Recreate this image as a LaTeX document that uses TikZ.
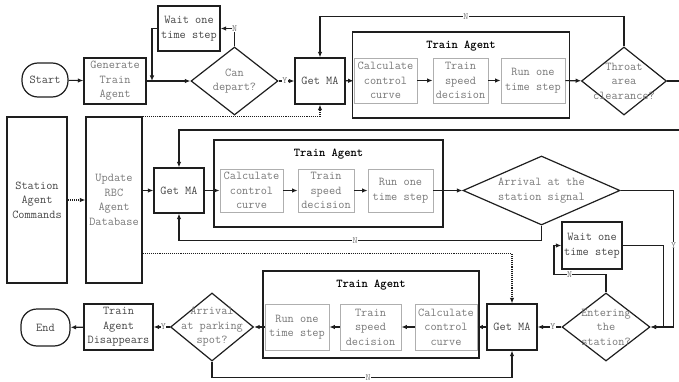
\documentclass[tikz,border=0pt]{standalone}
\usepackage{fontspec}
\usepackage{tikz}
\usetikzlibrary{arrows.meta,shapes.geometric}
\definecolor{boxline}{RGB}{30,30,30}
\definecolor{innerline}{RGB}{175,175,175}
\definecolor{textdark}{RGB}{70,70,70}
\definecolor{textlight}{RGB}{120,120,120}

\begin{document}
\begin{tikzpicture}[x=1pt,y=-1pt,>={Latex[length=5.5pt,width=4.5pt]},
  every node/.style={font=\ttfamily\fontsize{12}{14.5}\selectfont,text=textdark,align=center}]
\tikzset{block/.style={draw=boxline,line width=1.2pt,inner sep=0pt},
  inner/.style={draw=innerline,line width=0.8pt,inner sep=0pt,text=textlight},
  term/.style={draw=boxline,line width=1.2pt,rounded corners=16pt,inner sep=0pt},
  dia/.style={draw=boxline,line width=1.2pt,diamond,inner sep=0pt},
  agentbox/.style={draw=boxline,line width=1.2pt,inner sep=0pt,
    label={[font=\ttfamily\bfseries\fontsize{12}{12}\selectfont,text=black,anchor=north,inner sep=1pt,yshift=-8pt]north:Train Agent}},
  light/.style={text=textlight},
  yn/.style={font=\ttfamily\fontsize{9.5}{9.5}\selectfont,text=textlight,inner sep=0.3pt,fill=white},
  conn/.style={->,draw=boxline,line width=1.1pt},
  dotconn/.style={->,draw=boxline,line width=1.1pt,densely dotted}}

\useasboundingbox (0,0) rectangle (679,382);

% first train: generate and leave the depot
\node[term,minimum width=46,minimum height=34] (start) at (45,80) {Start};
\node[block,light,minimum width=62,minimum height=46] (gen) at (115,81) {Generate\\Train\\Agent};
\node[block,minimum width=62,minimum height=45] (wait1) at (189,28.5) {Wait one\\time step};
\node[dia,minimum width=87,minimum height=68,label={[light]center:Can\\depart?}] (dep) at (234.5,81) {};
\node[block,minimum width=50,minimum height=46] (ma1) at (320,81) {Get MA};
\node[agentbox,minimum width=217,minimum height=86] (ta1) at (461,75) {};
\node[inner,minimum width=63,minimum height=45] (calc1) at (385.5,80.5) {Calculate\\control\\curve};
\node[inner,minimum width=55,minimum height=45] (spd1) at (460.5,80.5) {Train\\speed\\decision};
\node[inner,minimum width=64,minimum height=45] (run1) at (533,80.5) {Run one\\time step};
\node[dia,minimum width=85,minimum height=68,label={[light]center:Throat\\area\\clearance?}] (thr) at (624,81) {};
\coordinate (edge1) at (684,81);
\coordinate (edge2) at (684,130);

% station and RBC
\node[block,minimum width=60,minimum height=166] (sac) at (37,200) {Station\\Agent\\Commands};
\node[block,light,minimum width=56,minimum height=166] (rbc) at (114,200) {Update\\RBC\\Agent\\Database};

% second train: approach the station
\node[block,minimum width=50,minimum height=45] (ma2) at (179,190.5) {Get MA};
\node[agentbox,minimum width=229,minimum height=87] (ta2) at (328.5,183.5) {};
\node[inner,minimum width=63,minimum height=43] (calc2) at (251.5,190.5) {Calculate\\control\\curve};
\node[inner,minimum width=56,minimum height=43] (spd2) at (326,190.5) {Train\\speed\\decision};
\node[inner,minimum width=65,minimum height=43] (run2) at (400.5,190.5) {Run one\\time step};
\node[dia,minimum width=157,minimum height=69,label={[light]center:Arrival at the\\station signal}] (arr) at (541.5,190.5) {};
\node[block,minimum width=60,minimum height=47] (wait2) at (592,245.5) {Wait one\\time step};
\node[dia,minimum width=88,minimum height=68,label={[light]center:Entering\\the\\station?}] (ent) at (606,327) {};

% third train: stop at the parking spot
\node[block,minimum width=50,minimum height=46] (ma3) at (512,327) {Get MA};
\node[agentbox,minimum width=216,minimum height=87] (ta3) at (371,314.5) {};
\node[inner,minimum width=62,minimum height=46] (calc3) at (446,327) {Calculate\\control\\curve};
\node[inner,minimum width=61,minimum height=46] (spd3) at (370.5,327) {Train\\speed\\decision};
\node[inner,minimum width=64,minimum height=46] (run3) at (297,327) {Run one\\time step};
\node[dia,minimum width=83,minimum height=68,label={[light]center:Arrival\\at parking\\spot?}] (park) at (212,327) {};
\node[block,minimum width=69,minimum height=46] (dis) at (118.5,327) {Train\\Agent\\Disappears};
\node[term,minimum width=49,minimum height=37] (endn) at (45.5,327.5) {End};

\coordinate (j1) at (152,81);

\draw[conn] (start) -- (gen);
\draw[conn] (gen) -- (dep);
\draw[conn] (dep.north) |- node[yn,pos=0.5]{N} (wait1.east);
\draw[conn] (wait1.west) -| (j1);
\draw[conn] (dep.east) -- node[yn,pos=0.4]{Y} (ma1.west);
\draw[conn] (ma1) -- (calc1);
\draw[conn] (calc1) -- (spd1);
\draw[conn] (spd1) -- (run1);
\draw[conn] (run1) -- (thr);
\draw[conn] (thr.north) -- ++(0,-30) -| node[yn,pos=0.26]{N} (ma1.north);
\draw[conn] (thr.east) -- (edge1) -- (edge2) -| (ma2.north);
\draw[dotconn] (rbc.north east) -| (ma1.south);

\draw[dotconn] (sac.east) -- (rbc.west);
\draw[conn] (rbc.east |- ma2.west) -- (ma2.west);
\draw[conn] (ma2) -- (calc2);
\draw[conn] (calc2) -- (spd2);
\draw[conn] (spd2) -- (run2);
\draw[conn] (run2) -- (arr);
\draw[conn] (arr.south) -- ++(0,15) -| node[yn,pos=0.257]{N} (ma2.south);
\draw[conn] (arr.east) -- ++(53,0) |- node[yn,pos=0.2]{Y} (ent.east);
\draw[conn] (wait2.east) -- ++(41,0) |- (ent.east);
\draw[conn] (ent.north) |- node[yn,pos=0.85]{N} ++(-52,-18) |- (wait2.west);
\draw[conn] (ent.west) -- node[yn,pos=0.36]{Y} (ma3.east);
\draw[dotconn] ([yshift=30pt]rbc.south east) -| (ma3.north);

\draw[conn] (ma3) -- (calc3);
\draw[conn] (calc3) -- (spd3);
\draw[conn] (spd3) -- (run3);
\draw[conn] (run3) -- (park);
\draw[conn] (park.south) -- ++(0,16) -| node[yn,pos=0.26]{N} (ma3.south);
\draw[conn] (park.west) -- node[yn,pos=0.4]{Y} (dis.east);
\draw[conn] (dis) -- (endn);
\end{tikzpicture}
\end{document}
